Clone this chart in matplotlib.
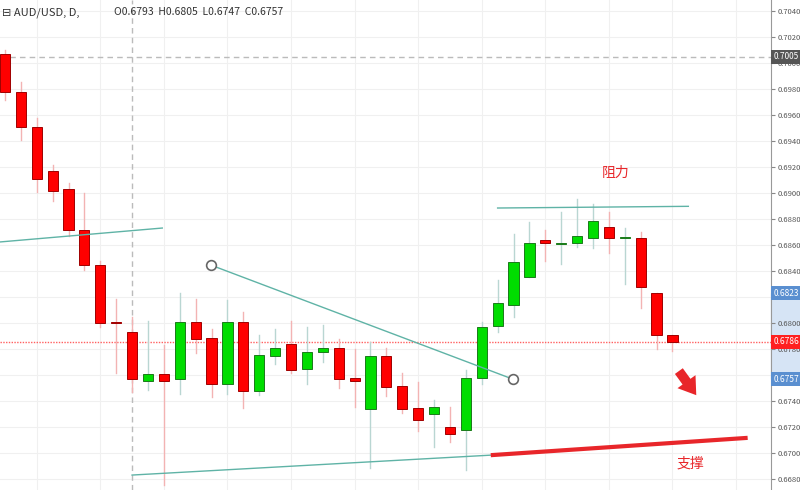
import matplotlib
matplotlib.use('Agg')
import matplotlib.pyplot as plt
import numpy as np

plt.rcParams['font.family'] = ['Noto Sans CJK SC', 'DejaVu Sans']

# daily AUD/USD candles
opens = [0.7007, 0.6978, 0.6951, 0.6917, 0.6903, 0.6872, 0.6845, 0.6801, 0.6793, 0.6756,
         0.6761, 0.6757, 0.6801, 0.6789, 0.6753, 0.6801, 0.6748, 0.6775, 0.6784, 0.6765,
         0.6778, 0.6781, 0.6758, 0.6734, 0.6775, 0.6752, 0.6735, 0.6730, 0.6720, 0.6718,
         0.6758, 0.6798, 0.6814, 0.6836, 0.6864, 0.6861, 0.6862, 0.6866, 0.6874, 0.6866,
         0.6866, 0.6823, 0.6791]
highs = [0.7010, 0.6986, 0.6958, 0.6922, 0.6908, 0.6900, 0.6848, 0.6819, 0.6805, 0.6802,
         0.6783, 0.6823, 0.6819, 0.6796, 0.6818, 0.6809, 0.6791, 0.6796, 0.6802, 0.6797,
         0.6799, 0.6788, 0.6780, 0.6786, 0.6781, 0.6762, 0.6755, 0.6741, 0.6736, 0.6764,
         0.6801, 0.6833, 0.6869, 0.6878, 0.6872, 0.6886, 0.6896, 0.6892, 0.6886, 0.6873,
         0.6870, 0.6823, 0.6791]
lows = [0.6972, 0.6941, 0.6901, 0.6894, 0.6867, 0.6841, 0.6797, 0.6762, 0.6747, 0.6749,
        0.6676, 0.6746, 0.6777, 0.6743, 0.6746, 0.6735, 0.6745, 0.6769, 0.6762, 0.6753,
        0.6770, 0.6750, 0.6736, 0.6689, 0.6744, 0.6731, 0.6717, 0.6705, 0.6709, 0.6687,
        0.6753, 0.6793, 0.6805, 0.6836, 0.6848, 0.6846, 0.6859, 0.6858, 0.6854, 0.6830,
        0.6812, 0.6780, 0.6779]
closes = [0.6978, 0.6951, 0.6911, 0.6902, 0.6872, 0.6845, 0.6800, 0.6800, 0.6757, 0.6761,
          0.6756, 0.6801, 0.6788, 0.6753, 0.6801, 0.6748, 0.6776, 0.6781, 0.6764, 0.6778,
          0.6781, 0.6757, 0.6756, 0.6775, 0.6751, 0.6734, 0.6726, 0.6736, 0.6715, 0.6758,
          0.6797, 0.6816, 0.6847, 0.6862, 0.6862, 0.6862, 0.6867, 0.6879, 0.6866, 0.6866,
          0.6828, 0.6791, 0.6786]

price_ticks = [0.6680, 0.6700, 0.6720, 0.6740, 0.6760, 0.6780, 0.6800, 0.6820, 0.6840,
               0.6860, 0.6880, 0.6900, 0.6920, 0.6940, 0.6960, 0.6980, 0.7000, 0.7020, 0.7040]

# drawn lines (bar index, price)
line_upper_left = ([-0.3, 9.9], [0.68626, 0.68733])
line_resist = ([31.0, 43.0], [0.68887, 0.68900])
line_down = ([12.96, 31.95], [0.68448, 0.67571])
line_support = ([8.0, 30.7], [0.66833, 0.66987])
line_support_red = ([30.7, 46.6], [0.66987, 0.67118])

fig = plt.figure(figsize=(8, 4.9), dpi=100)
ax = fig.add_axes([0, 0, 771 / 800, 1])
ax.set_xlim(-0.31, 48.2)
ax.set_ylim(0.66718, 0.70487)

# grid
for t in price_ticks:
    ax.axhline(t, color='#f0f0f0', lw=0.8, zorder=0)
for gx in range(2, 48, 4):
    ax.axvline(gx, color='#f0f0f0', lw=0.8, zorder=0)

ax.axhline(0.7005, color='#bbbbbb', lw=1, ls=(0, (4, 3)), zorder=1)
ax.axvline(8, color='#bbbbbb', lw=1, ls=(0, (4, 3)), zorder=1)
ax.axhline(0.6786, color='#ff6060', lw=1, ls=(0, (1, 1)), zorder=1)

for i in range(len(opens)):
    o, h, l, c = opens[i], highs[i], lows[i], closes[i]
    up = c >= o
    fc = '#00dd00' if up else '#ff0000'
    ec = '#1a7a1a' if up else '#a00000'
    wc = '#b9d6d2' if up else '#f3b3b3'
    ax.plot([i, i], [l, h], color=wc, lw=1, zorder=2)
    bot = min(o, c)
    hgt = max(abs(c - o), 0.00006)
    ax.add_patch(plt.Rectangle((i - 0.32, bot), 0.64, hgt, facecolor=fc,
                               edgecolor=ec, lw=0.7, zorder=3))

teal = '#5fb3a6'
for xs, ys in [line_upper_left, line_resist, line_down, line_support]:
    ax.plot(xs, ys, color=teal, lw=1, zorder=4)
ax.plot(line_down[0], line_down[1], 'o', mfc='white', mec='#666666', ms=7, mew=1.2, zorder=5)
ax.plot(line_support_red[0], line_support_red[1], color='#e8262a', lw=3, zorder=4)

ax.annotate('', xy=(43.6, 0.6743), xytext=(42.3, 0.6765),
            arrowprops=dict(arrowstyle='simple,head_width=1.6,head_length=1.2,tail_width=0.7',
                            color='#e8262a', lw=0))

ax.text(38.4, 0.6916, '阻力', color='#e8262a', fontsize=10, ha='center', va='center')
ax.text(43.1, 0.66925, '支撑', color='#e8262a', fontsize=10, ha='center', va='center')

# header
fig.text(0.003, 0.985, '⊟ AUD/USD, D,', fontsize=8, color='#333333', va='top')
fig.text(0.142, 0.985, 'O0.6793  H0.6805  L0.6747  C0.6757', fontsize=7.5,
         color='#333333', va='top')

ax.set_xticks([])
ax.yaxis.tick_right()
ax.set_yticks(price_ticks)
ax.set_yticklabels(['%.4f' % t for t in price_ticks], fontsize=5.5, color='#555555')
ax.tick_params(axis='y', length=3, pad=2, colors='#888888', labelcolor='#555555')
for s in ['top', 'left', 'bottom']:
    ax.spines[s].set_visible(False)
ax.spines['right'].set_color('#999999')

# price boxes on the axis
ax.axhspan(0.6757, 0.6823, xmin=1.0, xmax=1.04, color='#d6e4f5', clip_on=False, zorder=0)
for val, col in [(0.7005, '#555555'), (0.6823, '#5a8fd0'), (0.6786, '#ff2020'), (0.6757, '#5a8fd0')]:
    ax.text(1.003, val, '%.4f' % val, transform=ax.get_yaxis_transform(), fontsize=6,
            color='white', va='center', ha='left', zorder=10,
            bbox=dict(boxstyle='square,pad=0.3', fc=col, ec='none'))

fig.savefig('out.png', dpi=100)
